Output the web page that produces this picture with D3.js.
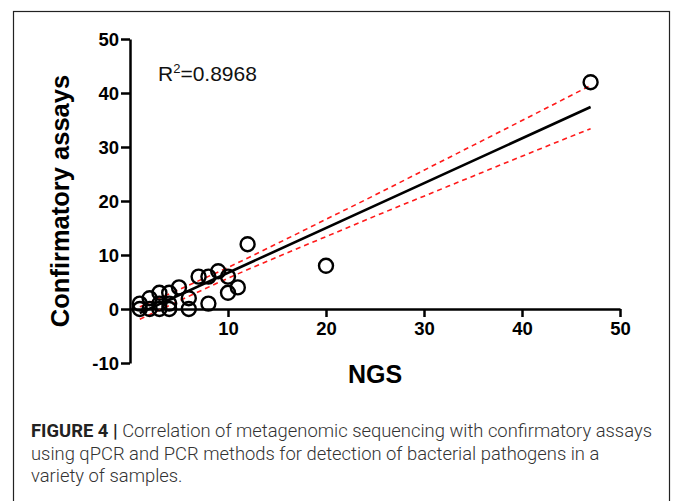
<!DOCTYPE html>
<html>
<head>
<meta charset="utf-8">
<script src="https://cdn.jsdelivr.net/npm/d3@7"></script>
<style>
  html, body { margin: 0; padding: 0; background: #fff; }
  svg { display: block; }
</style>
</head>
<body>
<div id="chart"></div>
<script>
// samples: NGS reads vs confirmatory assay result
const ngs     = [1, 1, 2, 2, 3, 3, 3, 4, 4, 4, 5, 6, 6, 7, 8, 8, 9, 10, 10, 11, 12, 20, 47];
const confirm = [1, 0, 2, 0, 3, 1, 0, 3, 1, 0, 4, 2, 0, 6, 6, 1, 7, 6, 3, 4, 12, 8, 42];

// regression line as printed
const fitSlope = 0.83;
const fitIntercept = -1.6;
const fitRange = [1, 47];
const rSquared = '0.8968';

// 95% confidence band
const bandX     = [1, 5, 10, 15, 20, 25, 30, 35, 40, 47];
const bandUpper = [0.4, 3.6, 7.7, 12.1, 16.6, 21.1, 25.7, 30.3, 34.9, 41.4];
const bandLower = [-1.9, 1.5, 5.7, 9.6, 13.4, 17.2, 20.9, 24.6, 28.3, 33.4];

// tick labels
const xTicks = [10, 20, 30, 40, 50];
const yTicks = [-10, 0, 10, 20, 30, 40, 50];

const captionLines = [
  ['FIGURE 4 | ', 'Correlation of metagenomic sequencing with confirmatory assays'],
  ['', 'using qPCR and PCR methods for detection of bacterial pathogens in a'],
  ['', 'variety of samples.']
];

const W = 673, H = 501;
const chartFont = '"Liberation Sans", Arial, sans-serif';

const svg = d3.select('#chart').append('svg')
    .attr('width', W)
    .attr('height', H);

// frame around figure
svg.append('rect')
    .attr('x', 13.5).attr('y', 11.5)
    .attr('width', 656).attr('height', 520)
    .attr('fill', 'none')
    .attr('stroke', '#222')
    .attr('stroke-width', 1.2);

const xScale = d3.scaleLinear().domain([0, 50]).range([130, 620]);
const yScale = d3.scaleLinear().domain([-10, 50]).range([363, 39]);

// axes (plain hyphen for negatives, like the original)
const xAxis = d3.axisBottom(xScale).tickValues(xTicks).tickFormat(d => String(d))
    .tickSize(8).tickSizeOuter(0).tickPadding(5);
const yAxis = d3.axisLeft(yScale).tickValues(yTicks).tickFormat(d => String(d))
    .tickSize(9).tickSizeOuter(0).tickPadding(2);

const gx = svg.append('g')
    .attr('transform', 'translate(0,' + yScale(0) + ')')
    .call(xAxis);
const gy = svg.append('g')
    .attr('transform', 'translate(' + xScale(0) + ',0)')
    .call(yAxis);

[gx, gy].forEach(g => {
  g.select('.domain').attr('stroke', '#000').attr('stroke-width', 2.5);
  g.selectAll('.tick line').attr('stroke', '#000').attr('stroke-width', 2.5);
  g.selectAll('.tick text')
      .attr('fill', '#000')
      .style('font-family', chartFont)
      .style('font-weight', 'bold')
      .style('font-size', '18.5px');
});
gy.selectAll('.tick text').attr('dy', '0.36em');

// axis titles
svg.append('text')
    .attr('x', (xScale(0) + xScale(50)) / 2)
    .attr('y', 383)
    .attr('text-anchor', 'middle')
    .style('font-family', chartFont)
    .style('font-weight', 'bold')
    .style('font-size', '25px')
    .text('NGS');

svg.append('text')
    .attr('transform', 'translate(69,' + ((yScale(-10) + yScale(50)) / 2) + ') rotate(-90)')
    .attr('text-anchor', 'middle')
    .style('font-family', chartFont)
    .style('font-weight', 'bold')
    .style('font-size', '25.5px')
    .text('Confirmatory assays');

// confidence band
const band = d3.line()
    .x((d, i) => xScale(bandX[i]))
    .y(d => yScale(d))
    .curve(d3.curveMonotoneX);

[bandUpper, bandLower].forEach(arr => {
  svg.append('path')
      .attr('d', band(arr))
      .attr('fill', 'none')
      .attr('stroke', '#ff1a1a')
      .attr('stroke-width', 1.6)
      .attr('stroke-dasharray', '5,4');
});

// regression line
svg.append('line')
    .attr('x1', xScale(fitRange[0]))
    .attr('y1', yScale(fitIntercept + fitSlope * fitRange[0]))
    .attr('x2', xScale(fitRange[1]))
    .attr('y2', yScale(fitIntercept + fitSlope * fitRange[1]))
    .attr('stroke', '#000')
    .attr('stroke-width', 2.6);

// points
svg.append('g').selectAll('circle')
    .data(ngs.map((x, i) => [x, confirm[i]]))
    .join('circle')
    .attr('cx', d => xScale(d[0]))
    .attr('cy', d => yScale(d[1]))
    .attr('r', 7)
    .attr('fill', 'none')
    .attr('stroke', '#000')
    .attr('stroke-width', 2.4);

// R squared label
const r2 = svg.append('text')
    .attr('x', 158)
    .attr('y', 81)
    .style('font-family', chartFont)
    .style('font-size', '21px')
    .attr('fill', '#111');
r2.append('tspan').text('R');
r2.append('tspan').attr('dy', -8).style('font-size', '13px').text('2');
r2.append('tspan').attr('dy', 8).text('=' + rSquared);

// caption
const capFont = 'Roboto, "Liberation Sans", sans-serif';
const capBase = [437, 459.5, 481.5];
const capG = svg.append('g');
const capTexts = captionLines.map((parts, i) => {
  const t = capG.append('text')
      .attr('x', 31)
      .attr('y', capBase[i])
      .style('font-family', capFont)
      .style('font-size', '18px');
  if (parts[0]) {
    t.append('tspan').style('font-weight', 700).attr('fill', '#222').text(parts[0]);
  }
  t.append('tspan').style('font-weight', 300).attr('fill', '#333').text(parts[1]);
  return t;
});
// fit the first line to its printed width and scale others the same
const natural = capTexts.map(t => t.node().getComputedTextLength());
const ratio = 621 / natural[0];
capTexts.forEach((t, i) => {
  t.attr('textLength', natural[i] * ratio).attr('lengthAdjust', 'spacingAndGlyphs');
});
</script>
</body>
</html>
